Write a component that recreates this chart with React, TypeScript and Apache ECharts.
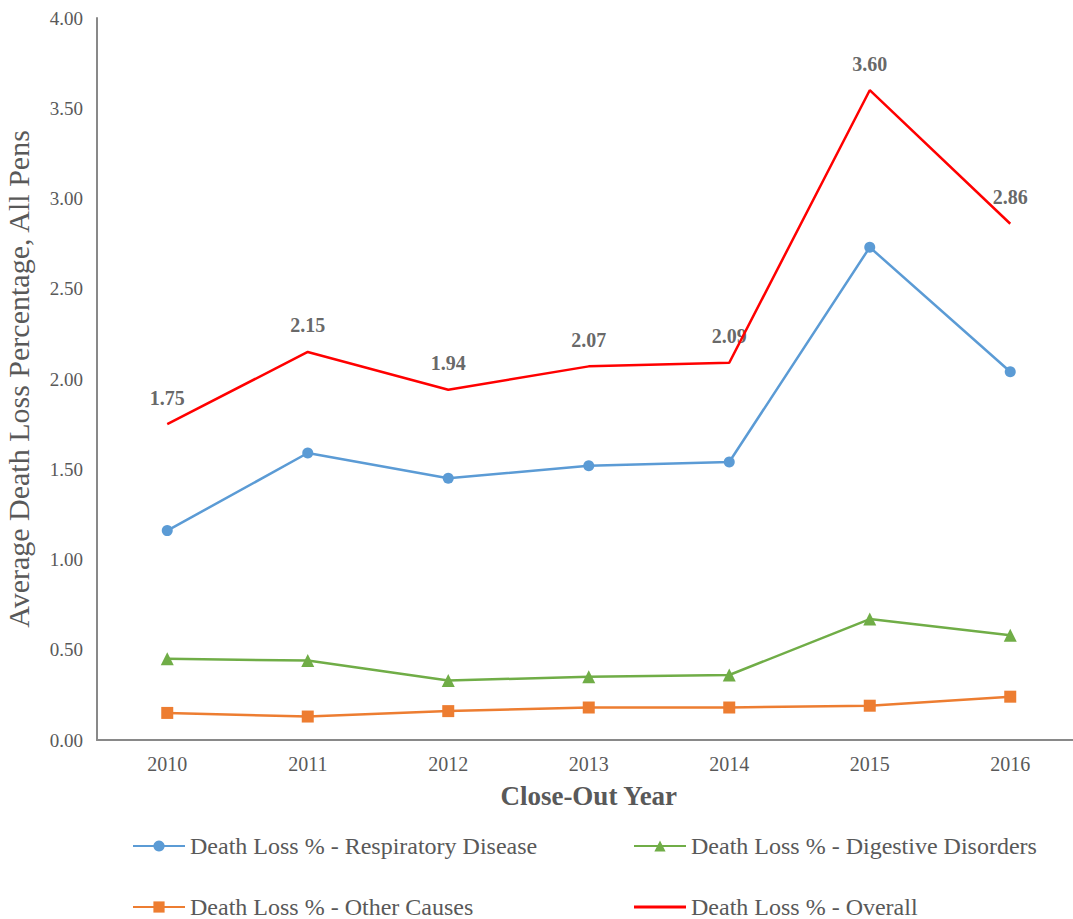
import React, { useEffect, useRef } from "react";
import * as echarts from "echarts";

const years = ["2010", "2011", "2012", "2013", "2014", "2015", "2016"];
const respiratory = [1.16, 1.59, 1.45, 1.52, 1.54, 2.73, 2.04];
const digestive = [0.45, 0.44, 0.33, 0.35, 0.36, 0.67, 0.58];
const otherCauses = [0.15, 0.13, 0.16, 0.18, 0.18, 0.19, 0.24];
const overall = [1.75, 2.15, 1.94, 2.07, 2.09, 3.6, 2.86];

const seriesNames = [
  "Death Loss % - Respiratory Disease",
  "Death Loss % - Digestive Disorders",
  "Death Loss % - Other Causes",
  "Death Loss % - Overall",
];

const FONT = "'Liberation Serif', 'Times New Roman', serif";

export default function App() {
  const ref = useRef<HTMLDivElement>(null);
  useEffect(() => {
    if (!ref.current) return;
    const chart = echarts.init(ref.current, null, { renderer: "svg" });
    const legendText = { color: "#595959", fontSize: 24, fontFamily: FONT };
    const legendCommon = {
      orient: "vertical",
      top: 829,
      height: 120,
      padding: 5,
      itemWidth: 52,
      itemHeight: 14,
      itemGap: 37,
      textStyle: legendText,
      selectedMode: false,
    };
    chart.setOption({
      animation: false,
      backgroundColor: "#ffffff",
      textStyle: { fontFamily: FONT },
      grid: {
        left: 97,
        top: 18,
        width: 983.5,
        height: 722,
        containLabel: false,
        outerBoundsMode: "none",
      },
      xAxis: {
        type: "category",
        data: years,
        boundaryGap: true,
        axisLine: { lineStyle: { color: "#898989", width: 2 } },
        axisTick: { show: false },
        axisLabel: { color: "#595959", fontSize: 20, fontFamily: FONT, margin: 14 },
        name: "Close-Out Year",
        nameLocation: "middle",
        nameGap: 42,
        nameTextStyle: { color: "#595959", fontSize: 27, fontWeight: "bold", fontFamily: FONT },
      },
      yAxis: {
        type: "value",
        min: 0,
        max: 4,
        interval: 0.5,
        splitLine: { show: false },
        axisLine: { show: true, lineStyle: { color: "#898989", width: 2 } },
        axisTick: { show: false },
        axisLabel: {
          color: "#595959",
          fontSize: 19,
          fontFamily: FONT,
          margin: 14,
          formatter: (v: number) => v.toFixed(2),
        },
        name: "Average Death Loss Percentage, All Pens",
        nameLocation: "middle",
        nameGap: 64,
        nameTextStyle: { color: "#595959", fontSize: 30, fontFamily: FONT },
      },
      legend: [
        {
          ...legendCommon,
          left: 127,
          data: [seriesNames[0], seriesNames[2]],
        },
        {
          ...legendCommon,
          left: 628,
          data: [
            seriesNames[1],
            { name: seriesNames[3], icon: "path://M0,0 L52,0 L52,3 L0,3 Z" },
          ],
        },
      ],
      series: [
        {
          name: seriesNames[0],
          type: "line",
          data: respiratory,
          symbol: "circle",
          symbolSize: 11,
          lineStyle: { color: "#5B9BD5", width: 2.5 },
          itemStyle: { color: "#5B9BD5" },
        },
        {
          name: seriesNames[1],
          type: "line",
          data: digestive,
          symbol: "triangle",
          symbolSize: 13,
          lineStyle: { color: "#70AD47", width: 2.5 },
          itemStyle: { color: "#70AD47" },
        },
        {
          name: seriesNames[2],
          type: "line",
          data: otherCauses,
          symbol: "rect",
          symbolSize: 12,
          lineStyle: { color: "#ED7D31", width: 2.5 },
          itemStyle: { color: "#ED7D31" },
        },
        {
          name: seriesNames[3],
          type: "line",
          data: overall,
          symbol: "none",
          lineStyle: { color: "#FF0000", width: 2.5 },
          itemStyle: { color: "#FF0000" },
        },
        {
          name: "overall-labels",
          type: "scatter",
          data: overall,
          symbol: "circle",
          symbolSize: 1,
          silent: true,
          itemStyle: { color: "rgba(0,0,0,0)" },
          label: {
            show: true,
            position: "top",
            distance: 16,
            color: "#404040",
            fontSize: 20,
            fontWeight: "bold",
            fontFamily: FONT,
            formatter: (p: any) => Number(p.value).toFixed(2),
          },
        },
      ],
    });
    return () => chart.dispose();
  }, []);
  return (
    <div
      ref={ref}
      style={{ position: "absolute", left: 0, top: 0, width: 1073, height: 919 }}
    />
  );
}
